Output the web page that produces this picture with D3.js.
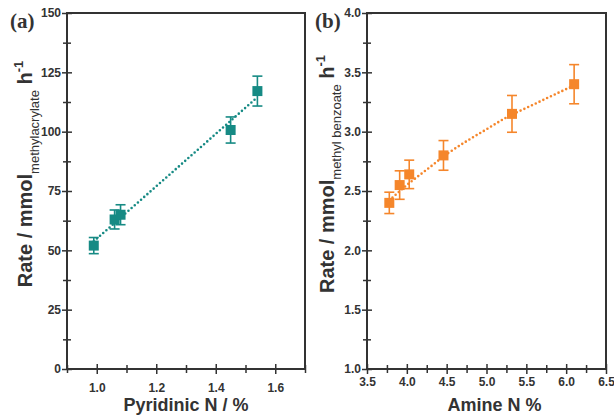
<!DOCTYPE html>
<html>
<head>
<meta charset="utf-8">
<script src="https://cdn.jsdelivr.net/npm/d3@7"></script>
<style>
body{margin:0;background:#fff;}
svg{display:block;font-family:"Liberation Sans",Arial,sans-serif;}
.tick text{font-size:12px;font-weight:bold;fill:#333;}
</style>
</head>
<body>
<div id="chart"></div>
<script>
// panel (a)
var pyridinicN = [0.99, 1.06, 1.08, 1.45, 1.54];
var rateA = [52, 63, 65, 100.7, 117.1];
var errA = [3.4, 4, 4.2, 5.5, 6.3];
var fitAx = [0.99, 1.54];
var fitAy = [53.8, 114.5];
var xTicksA = [1.0, 1.2, 1.4, 1.6];
var yTicksA = [0, 25, 50, 75, 100, 125, 150];

// panel (b)
var amineN = [3.78, 3.91, 4.03, 4.46, 5.32, 6.10];
var rateB = [2.40, 2.55, 2.64, 2.80, 3.15, 3.40];
var errB = [0.09, 0.12, 0.12, 0.125, 0.155, 0.165];
var fitBx = [3.78, 4.0, 4.25, 4.5, 4.75, 5.0, 5.25, 5.5, 5.75, 6.1];
var fitBy = [2.42, 2.55, 2.68, 2.81, 2.92, 3.02, 3.12, 3.20, 3.28, 3.39];
var xTicksB = [3.5, 4.0, 4.5, 5.0, 5.5, 6.0, 6.5];
var yTicksB = [1.0, 1.5, 2.0, 2.5, 3.0, 3.5, 4.0];

var width = 614, height = 420;
var svg = d3.select('#chart').append('svg')
	.attr('width', width)
	.attr('height', height);

function drawPanel(opt){
	var x = d3.scaleLinear().domain(opt.xDomain).range([opt.left, opt.right]);
	var y = d3.scaleLinear().domain(opt.yDomain).range([opt.bottom, opt.top]);
	var g = svg.append('g');

	// minor ticks first (no labels)
	g.append('g')
		.attr('transform', 'translate(0,' + opt.bottom + ')')
		.call(d3.axisBottom(x).tickValues(opt.xMinor).tickSize(4).tickFormat(''))
		.call(function(s){ s.select('.domain').remove(); s.selectAll('line').attr('y1', -4).attr('stroke', '#333').attr('stroke-width', 1.5); });
	g.append('g')
		.attr('transform', 'translate(' + opt.left + ',0)')
		.call(d3.axisLeft(y).tickValues(opt.yMinor).tickSize(4).tickFormat(''))
		.call(function(s){ s.select('.domain').remove(); s.selectAll('line').attr('x1', 4).attr('stroke', '#333').attr('stroke-width', 1.5); });

	// major ticks
	g.append('g')
		.attr('transform', 'translate(0,' + opt.bottom + ')')
		.call(d3.axisBottom(x).tickValues(opt.xTicks).tickSize(5).tickPadding(opt.xPad).tickFormat(d3.format('.1f')))
		.call(function(s){ s.select('.domain').remove(); s.selectAll('line').attr('y1', -5).attr('stroke', '#333').attr('stroke-width', 1.5); });
	g.append('g')
		.attr('transform', 'translate(' + opt.left + ',0)')
		.call(d3.axisLeft(y).tickValues(opt.yTicks).tickSize(5).tickPadding(1).tickFormat(opt.yFormat))
		.call(function(s){ s.select('.domain').remove(); s.selectAll('line').attr('x1', 5).attr('stroke', '#333').attr('stroke-width', 1.5); });

	// frame
	g.append('rect')
		.attr('x', opt.left).attr('y', opt.top)
		.attr('width', opt.right - opt.left).attr('height', opt.bottom - opt.top)
		.attr('fill', 'none').attr('stroke', '#333').attr('stroke-width', 2);

	// fit line
	var fit = opt.fitX.map(function(d, i){ return [d, opt.fitY[i]]; });
	g.append('path')
		.datum(fit)
		.attr('d', d3.line().x(function(d){ return x(d[0]); }).y(function(d){ return y(d[1]); }).curve(d3.curveMonotoneX))
		.attr('fill', 'none')
		.attr('stroke', opt.color)
		.attr('stroke-width', 2.6)
		.attr('stroke-linecap', 'round')
		.attr('stroke-dasharray', '0,4.2');

	// error bars + markers
	var pts = opt.xs.map(function(d, i){ return {x: d, y: opt.ys[i], e: opt.errs[i]}; });
	var p = g.selectAll('.pt').data(pts).enter().append('g');
	p.append('line')
		.attr('x1', function(d){ return x(d.x); }).attr('x2', function(d){ return x(d.x); })
		.attr('y1', function(d){ return y(d.y - d.e); }).attr('y2', function(d){ return y(d.y + d.e); })
		.attr('stroke', opt.color).attr('stroke-width', 1.6);
	[-1, 1].forEach(function(sgn){
		p.append('line')
			.attr('x1', function(d){ return x(d.x) - 5; }).attr('x2', function(d){ return x(d.x) + 5; })
			.attr('y1', function(d){ return y(d.y + sgn * d.e); }).attr('y2', function(d){ return y(d.y + sgn * d.e); })
			.attr('stroke', opt.color).attr('stroke-width', 1.6);
	});
	p.append('rect')
		.attr('x', function(d){ return x(d.x) - 5; })
		.attr('y', function(d){ return y(d.y) - 5; })
		.attr('width', 10).attr('height', 10)
		.attr('fill', opt.color);

	// panel letter
	svg.append('text')
		.attr('x', opt.letterX).attr('y', 28)
		.attr('font-family', '"Liberation Serif","Times New Roman",serif')
		.attr('font-weight', 'bold').attr('font-size', 21)
		.attr('fill', '#333')
		.text(opt.letter);

	// x title
	svg.append('text')
		.attr('x', (opt.left + opt.right) / 2 + opt.xTitleShift).attr('y', 411)
		.attr('text-anchor', 'middle')
		.attr('font-weight', 'bold').attr('font-size', 18)
		.attr('fill', '#333')
		.text(opt.xTitle);

	// y title with sub/superscript
	var yt = svg.append('text')
		.attr('transform', 'translate(' + opt.yTitleX + ',' + opt.yTitleY + ') rotate(-90)')
		.attr('text-anchor', 'middle')
		.attr('font-weight', 'bold').attr('font-size', 20)
		.attr('fill', '#333');
	yt.append('tspan').text('Rate / mmol');
	yt.append('tspan').attr('dy', 7).attr('font-size', 13).attr('font-weight', 'normal').text(opt.sub);
	yt.append('tspan').attr('dy', -7).text(' h');
	yt.append('tspan').attr('dy', -9).attr('font-size', 13).text('-1');
}

drawPanel({
	xs: pyridinicN, ys: rateA, errs: errA, fitX: fitAx, fitY: fitAy,
	xDomain: [0.9, 1.7], yDomain: [0, 150],
	xTicks: xTicksA, yTicks: yTicksA,
	xMinor: [0.9, 1.1, 1.3, 1.5, 1.7], yMinor: [12.5, 37.5, 62.5, 87.5, 112.5, 137.5],
	yFormat: d3.format('d'), xPad: 9,
	left: 67, right: 305, top: 13, bottom: 369,
	color: '#168a84', letter: '(a)', letterX: 10,
	xTitle: 'Pyridinic N / %', xTitleShift: 0,
	sub: 'methylacrylate', yTitleX: 32, yTitleY: 174
});

drawPanel({
	xs: amineN, ys: rateB, errs: errB, fitX: fitBx, fitY: fitBy,
	xDomain: [3.5, 6.5], yDomain: [1, 4],
	xTicks: xTicksB, yTicks: yTicksB,
	xMinor: [3.75, 4.25, 4.75, 5.25, 5.75, 6.25], yMinor: [1.25, 1.75, 2.25, 2.75, 3.25, 3.75],
	yFormat: d3.format('.1f'), xPad: 3,
	left: 367, right: 606, top: 13, bottom: 369,
	color: '#f5862b', letter: '(b)', letterX: 315,
	xTitle: 'Amine N %', xTitleShift: 8,
	sub: 'methyl benzoate', yTitleX: 334, yTitleY: 174
});
</script>
</body>
</html>
